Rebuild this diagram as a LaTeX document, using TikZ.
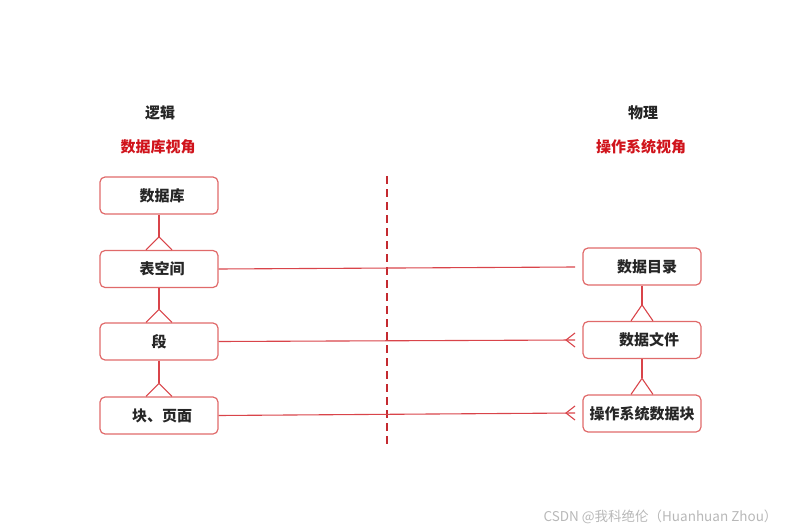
\documentclass[tikz,border=0pt]{standalone}
\usepackage{fontspec}
\newfontfamily\cjk{Noto Sans CJK SC}
\definecolor{boxred}{HTML}{E06A6A}
\definecolor{linered}{HTML}{D9444A}
\definecolor{dashred}{HTML}{C42A30}
\definecolor{labred}{HTML}{D0141C}
\tikzset{
  ebox/.style={draw=boxred, line width=1.2pt, rounded corners=5pt, minimum width=118pt, minimum height=37pt, inner sep=0pt, font=\cjk\bfseries\fontsize{15pt}{17pt}\selectfont, text=black!85},
  conn/.style={draw=linered, line width=1.1pt},
  head/.style={font=\cjk\bfseries\fontsize{15pt}{17pt}\selectfont, text=black!85},
  redhead/.style={font=\cjk\bfseries\fontsize{15pt}{17pt}\selectfont, text=labred}
}
\begin{document}
\begin{tikzpicture}[x=1pt,y=-1pt]
\useasboundingbox (0,0) rectangle (798,532);
% headings
\node[head] (lg) at (160,113) {逻辑};
\node[redhead] (lgv) at (158,147) {数据库视角};
\node[head] (ph) at (643,113) {物理};
\node[redhead] (phv) at (641,147) {操作系统视角};
% left boxes
\node[ebox] (db) at (159,195.5) {\hspace*{6pt}数据库};
\node[ebox] (ts) at (159,269) {\hspace*{6pt}表空间};
\node[ebox] (seg) at (159,341.5) {段};
\node[ebox] (blk) at (159,415.5) {\hspace*{6pt}块、页面};
% right boxes
\node[ebox] (dir) at (642,266.5) {\hspace*{10pt}数据目录};
\node[ebox] (df) at (642,340) {\hspace*{14pt}数据文件};
\node[ebox] (osb) at (642,413.5) {操作系统数据块};
% dashed divider
\coordinate (dtop) at (387,176);
\coordinate (dbot) at (387,447);
\draw[draw=dashred, line width=2pt, dash pattern=on 8pt off 5pt] (dtop) -- (dbot);
% left vertical one-to-many
\foreach \a/\b in {db/ts, ts/seg, seg/blk}{
  \draw[conn] (\a.south) -- ([yshift=13pt]\b.north);
  \draw[conn] ([xshift=-13pt]\b.north) -- ([yshift=13pt]\b.north) -- ([xshift=13pt]\b.north);
}
% right vertical one-to-many
\foreach \a/\b in {dir/df, df/osb}{
  \draw[conn] (\a.south) -- ([yshift=16pt]\b.north);
  \draw[conn] ([xshift=-11pt]\b.north) -- ([yshift=16pt]\b.north) -- ([xshift=11pt]\b.north);
}
% horizontal mappings
\coordinate (e1) at (575,267);
\draw[conn] (ts.east) -- (e1);
\coordinate (e2) at (575,340);
\coordinate (v2) at (566,340);
\draw[conn] (seg.east) -- (e2);
\draw[conn] (575,333) -- (v2) -- (575,347);
\coordinate (e3) at (575,413);
\coordinate (v3) at (566,413);
\draw[conn] (blk.east) -- (e3);
\draw[conn] (575,406) -- (v3) -- (575,420);
% watermark
\node[font=\cjk\fontsize{13.5pt}{15pt}\selectfont, text=black!28, anchor=east] (wm) at (781,517) {CSDN @我科绝伦（Huanhuan Zhou）};
\end{tikzpicture}
\end{document}
